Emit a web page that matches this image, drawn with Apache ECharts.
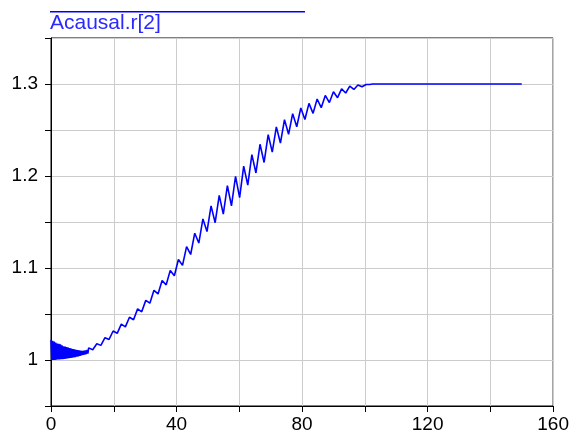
<!DOCTYPE html>
<html>
<head>
<meta charset="utf-8">
<script src="https://cdn.jsdelivr.net/npm/echarts@6/dist/echarts.min.js"></script>
<style>
  html, body { margin: 0; padding: 0; background: #fff; }
  #chart { width: 572px; height: 439px; }
</style>
</head>
<body>
<div id="chart"></div>
<script>
// Acausal.r[2] over time: start-up chatter, oscillating ramp, then hold at 1.3
const seriesName = 'Acausal.r[2]';

const startTime = [
  0, 0.25, 0.5, 0.75, 1, 1.25, 1.5, 1.75, 2, 2.25, 2.5, 2.75, 3, 3.25, 3.5, 3.75,
  4, 4.25, 4.5, 4.75, 5, 5.25, 5.5, 5.75, 6, 6.25, 6.5, 6.75, 7, 7.25, 7.5, 7.75,
  8, 8.25, 8.5, 8.75, 9, 9.25, 9.5, 9.75, 10, 10.25, 10.5, 10.75, 11, 11.25, 11.5, 11.75
];
const startValue = [
  1.022, 1.000, 1.021, 1.000, 1.020, 1.000, 1.019, 1.0003, 1.018, 1.0005, 1.0175, 1.0006,
  1.017, 1.0008, 1.016, 1.001, 1.015, 1.0012, 1.0145, 1.0015, 1.014, 1.0017, 1.0135, 1.002,
  1.013, 1.0022, 1.0125, 1.0025, 1.012, 1.0027, 1.0115, 1.003, 1.011, 1.0035, 1.0108, 1.004,
  1.0105, 1.0045, 1.0102, 1.005, 1.010, 1.0055, 1.0102, 1.006, 1.0105, 1.0065, 1.011, 1.007
];

const rampTime = [
  12.0, 13.3, 14.6, 15.9, 17.2, 18.5, 19.8, 21.1, 22.4, 23.7, 25.0, 26.3, 27.6, 28.9,
  30.2, 31.5, 32.8, 34.1, 35.4, 36.7, 38.0, 39.3, 40.6, 41.9, 43.2, 44.5, 45.8, 47.1,
  48.4, 49.7, 51.0, 52.3, 53.6, 54.9, 56.2, 57.5, 58.8, 60.1, 61.4, 62.7, 64.0, 65.3,
  66.6, 67.9, 69.2, 70.5, 71.8, 73.1, 74.4, 75.7, 77.0, 78.3, 79.6, 80.9, 82.2, 83.5,
  84.8, 86.1, 87.4, 88.7, 90.0, 91.3, 92.6, 93.9, 95.2, 96.5, 97.8, 99.1
];
const rampValue = [
  1.0132, 1.0112, 1.0177, 1.0159, 1.0243, 1.0224, 1.0315, 1.0290, 1.0390, 1.0360,
  1.0465, 1.0438, 1.0556, 1.0524, 1.0648, 1.0618, 1.0757, 1.0718, 1.0865, 1.0817,
  1.0974, 1.0916, 1.1093, 1.1028, 1.1233, 1.1147, 1.1378, 1.1271, 1.1534, 1.1396,
  1.1675, 1.1492, 1.1789, 1.1586, 1.1896, 1.1675, 1.1995, 1.1765, 1.2108, 1.1900,
  1.2233, 1.2033, 1.2345, 1.2147, 1.2449, 1.2259, 1.2534, 1.2358, 1.2613, 1.2453,
  1.2678, 1.2535, 1.2740, 1.2614, 1.2789, 1.2681, 1.2837, 1.2743, 1.2876, 1.2798,
  1.2915, 1.2851, 1.2947, 1.2902, 1.2977, 1.2941, 1.2989, 1.2970
];

const holdTime = [100.4, 101.5, 102.5, 150];
const holdValue = [1.2995, 1.2995, 1.3, 1.3];

const xTicks = [0, 40, 80, 120, 160];
const yTicks = [1, 1.1, 1.2, 1.3];

const points = [];
[[startTime, startValue], [rampTime, rampValue], [holdTime, holdValue]].forEach(([t, v]) => {
  t.forEach((x, i) => points.push([x, v[i]]));
});

const near = (v, list) => list.some(t => Math.abs(v - t) < 1e-6);
const labelFont = 'Liberation Sans, Arial, sans-serif';

const chart = echarts.init(document.getElementById('chart'), null, { renderer: 'canvas' });
chart.setOption({
  animation: false,
  backgroundColor: '#ffffff',
  grid: {
    left: 51, right: 15, top: 38, bottom: 33,
    show: true, borderColor: '#000000', borderWidth: 1, backgroundColor: 'transparent'
  },
  xAxis: {
    type: 'value', min: 0, max: 160, interval: 20,
    axisLine: { show: true, onZero: false, lineStyle: { color: '#000', width: 1 } },
    axisTick: { show: true, inside: false, length: 6, lineStyle: { color: '#000' } },
    splitLine: { show: true, lineStyle: { color: '#cccccc', width: 1 } },
    axisLabel: {
      margin: 9, color: '#000', fontFamily: labelFont, fontSize: 19,
      formatter: v => near(v, xTicks) ? String(v) : ''
    }
  },
  yAxis: {
    type: 'value', min: 0.95, max: 1.35, interval: 0.05,
    axisLine: { show: true, onZero: false, lineStyle: { color: '#000', width: 1 } },
    axisTick: { show: true, inside: false, length: 6, lineStyle: { color: '#000' } },
    splitLine: { show: true, lineStyle: { color: '#cccccc', width: 1 } },
    axisLabel: {
      margin: 13, color: '#000', fontFamily: labelFont, fontSize: 19,
      formatter: v => {
        const hit = yTicks.find(t => Math.abs(v - t) < 1e-6);
        return hit === undefined ? '' : String(hit);
      }
    }
  },
  graphic: [
    {
      // legend key line above the series name
      type: 'rect', left: 50, top: 11,
      shape: { x: 0, y: 0, width: 255, height: 1.5 },
      style: { fill: '#0000ff' }
    },
    {
      type: 'text', left: 50, top: 13,
      style: {
        text: seriesName, fill: '#2a2aff',
        font: '21px "Liberation Sans", Arial, sans-serif'
      }
    }
  ],
  series: [{
    name: seriesName,
    type: 'line',
    data: points,
    showSymbol: false,
    smooth: false,
    lineStyle: { color: '#0000ff', width: 1.6 },
    itemStyle: { color: '#0000ff' }
  }]
});
</script>
</body>
</html>
